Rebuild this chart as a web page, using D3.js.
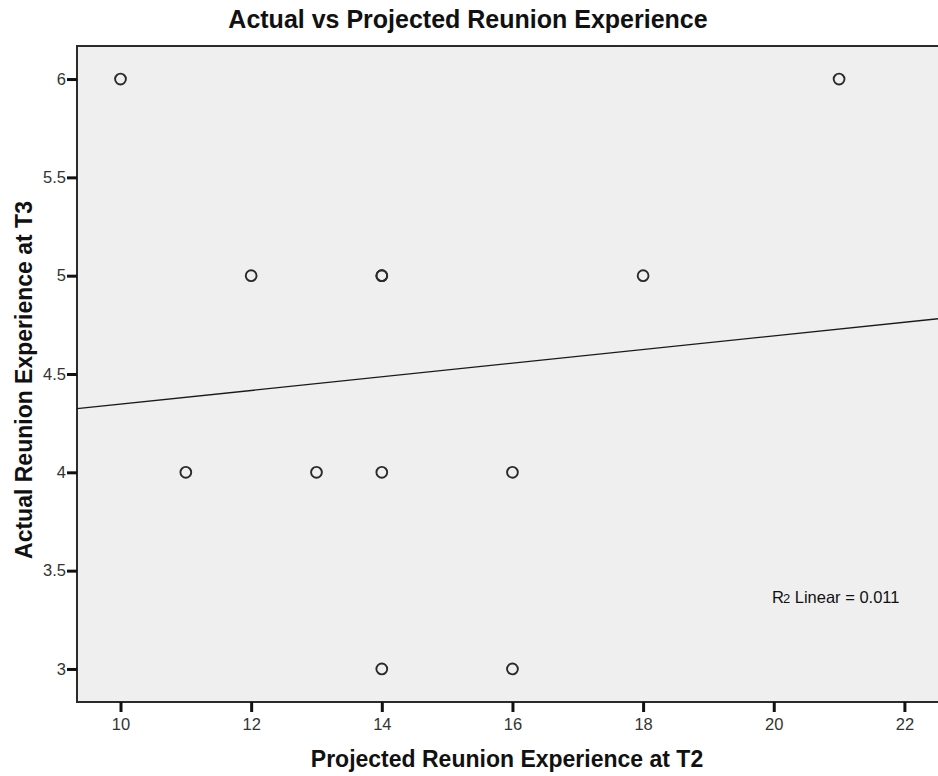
<!DOCTYPE html>
<html>
<head>
<meta charset="utf-8">
<script src="https://cdn.jsdelivr.net/npm/d3@7"></script>
<style>
  html, body { margin: 0; padding: 0; background: #fff; }
  svg { display: block; font-family: Arial, "Liberation Sans", sans-serif; }
</style>
</head>
<body>
<svg id="chart" width="938" height="776"></svg>
<script>
// Projected (T2) vs actual (T3) reunion experience, one entry per respondent
const projectedT2 = [10, 21, 12, 14, 14, 18, 11, 13, 14, 16, 14, 16];
const actualT3    = [ 6,  6,  5,  5,  5,  5,  4,  4,  4,  4,  3,  3];
const xTicks = [10, 12, 14, 16, 18, 20, 22];
const yTicks = [3, 3.5, 4, 4.5, 5, 5.5, 6];
const r2Label = "0.011";

const svg = d3.select("#chart");
const plot = { left: 77, top: 46, right: 940, bottom: 702 };

const x = d3.scaleLinear().domain([9.334, 22.545]).range([plot.left, plot.right]);
const y = d3.scaleLinear().domain([2.832, 6.168]).range([plot.bottom, plot.top]);

// Plot background and frame
svg.append("rect")
  .attr("x", plot.left).attr("y", plot.top)
  .attr("width", plot.right - plot.left).attr("height", plot.bottom - plot.top)
  .attr("fill", "#efefef").attr("stroke", "#2b2b2b").attr("stroke-width", 2);

// Axes
const xAxis = svg.append("g")
  .attr("transform", `translate(0,${plot.bottom})`)
  .call(d3.axisBottom(x).tickValues(xTicks).tickSize(10).tickPadding(6).tickFormat(d3.format("d")));
const yAxis = svg.append("g")
  .attr("transform", `translate(${plot.left},0)`)
  .call(d3.axisLeft(y).tickValues(yTicks).tickSize(10).tickPadding(1).tickFormat(d => String(d)));

[xAxis, yAxis].forEach(g => {
  g.attr("font-size", null).attr("font-family", null);
  g.select(".domain").remove();
  g.selectAll(".tick line").attr("stroke", "#111").attr("stroke-width", 3);
  g.selectAll(".tick text")
    .style("fill", "#333")
    .style("font-size", "16.5px")
    .style("font-family", "Arial, 'Liberation Sans', sans-serif");
});

// Least-squares fit line
const n = projectedT2.length;
const mx = d3.mean(projectedT2), my = d3.mean(actualT3);
let sxy = 0, sxx = 0;
for (let i = 0; i < n; i++) {
  sxy += (projectedT2[i] - mx) * (actualT3[i] - my);
  sxx += (projectedT2[i] - mx) ** 2;
}
const slope = sxy / sxx, intercept = my - slope * mx;
const [x0, x1] = x.domain();
svg.append("line")
  .attr("x1", x(x0)).attr("y1", y(intercept + slope * x0))
  .attr("x2", x(x1)).attr("y2", y(intercept + slope * x1))
  .attr("stroke", "#1a1a1a").attr("stroke-width", 1.3);

// Data points
svg.append("g").selectAll("circle")
  .data(projectedT2.map((v, i) => [v, actualT3[i]]))
  .join("circle")
  .attr("cx", d => x(d[0])).attr("cy", d => y(d[1]))
  .attr("r", 5.4)
  .attr("fill", "none").attr("stroke", "#2a2a2a").attr("stroke-width", 1.9);

// Fit annotation
const ann = svg.append("text")
  .attr("x", 772).attr("y", 603)
  .style("font-size", "16.5px").style("fill", "#111");
ann.append("tspan").text("R");
ann.append("tspan").style("font-size", "13px").attr("dx", -1).text("2");
ann.append("tspan").text(" Linear = " + r2Label);

// Titles
svg.append("text")
  .attr("x", 468).attr("y", 28).attr("text-anchor", "middle")
  .style("font-size", "25px").attr("font-weight", "bold").attr("fill", "#111")
  .text("Actual vs Projected Reunion Experience");

svg.append("text")
  .attr("x", 507).attr("y", 767).attr("text-anchor", "middle")
  .style("font-size", "23px").attr("font-weight", "bold").attr("fill", "#111")
  .text("Projected Reunion Experience at T2");

svg.append("text")
  .attr("transform", `translate(32,380) rotate(-90)`)
  .attr("text-anchor", "middle")
  .style("font-size", "23px").attr("font-weight", "bold").attr("fill", "#111")
  .text("Actual Reunion Experience at T3");
</script>
</body>
</html>
